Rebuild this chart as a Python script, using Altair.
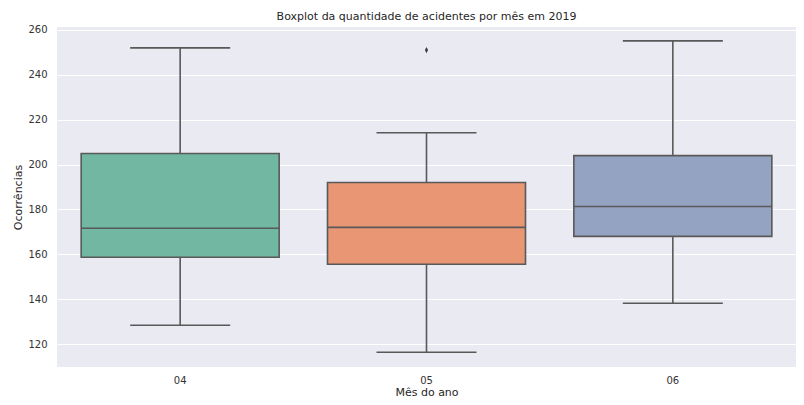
import altair as alt
import pandas as pd

months = ["04", "05", "06"]
whisk_low = [128.4, 116.4, 138.2]
q1 = [158.7, 155.6, 168.0]
median = [171.6, 172.0, 181.3]
q3 = [204.9, 192.0, 204.0]
whisk_high = [252.0, 214.2, 255.1]
colors = ["#71b7a1", "#e99675", "#95a3c3"]

out_month = ["05"]
out_value = [251.0]

df = pd.DataFrame({"mes": months, "low": whisk_low, "q1": q1, "med": median,
                   "q3": q3, "high": whisk_high})
dfo = pd.DataFrame({"mes": out_month, "v": out_value})

LINE = "#595959"
LW = 1.6

x = alt.X("mes:N", title="Mês do ano", sort=months,
          scale=alt.Scale(paddingInner=0, paddingOuter=0),
          axis=alt.Axis(labelAngle=0, ticks=False, domain=False, grid=False,
                        labelPadding=8, titlePadding=1))
yscale = alt.Scale(domain=[109.8, 261.3], nice=False, zero=False)
yaxis = alt.Axis(values=[120, 140, 160, 180, 200, 220, 240, 260], ticks=False,
                 domain=False, grid=True, gridColor="white", gridWidth=1,
                 labelPadding=10, titlePadding=4)

base = alt.Chart(df)

whisk_lo = base.mark_rule(color=LINE, strokeWidth=LW).encode(
    x=x, y=alt.Y("low:Q", scale=yscale, axis=yaxis, title="Ocorrências"), y2="q1:Q")
whisk_hi = base.mark_rule(color=LINE, strokeWidth=LW).encode(
    x=x, y=alt.Y("q3:Q", scale=yscale), y2="high:Q")
cap_lo = base.mark_tick(color=LINE, size=100, thickness=LW, opacity=1).encode(
    x=x, y=alt.Y("low:Q", scale=yscale))
cap_hi = base.mark_tick(color=LINE, size=100, thickness=LW, opacity=1).encode(
    x=x, y=alt.Y("high:Q", scale=yscale))
box = base.mark_bar(size=198, stroke=LINE, strokeWidth=LW, opacity=1).encode(
    x=x, y=alt.Y("q1:Q", scale=yscale), y2="q3:Q",
    color=alt.Color("mes:N", scale=alt.Scale(domain=months, range=colors), legend=None))
med = base.mark_tick(color=LINE, size=198, thickness=LW, opacity=1).encode(
    x=x, y=alt.Y("med:Q", scale=yscale))
outl = alt.Chart(dfo).mark_point(
    shape="M0,-1L0.5,0L0,1L-0.5,0Z", filled=True, color="#3d3d3d", size=40, opacity=1
).encode(x=alt.X("mes:N", sort=months), y=alt.Y("v:Q", scale=yscale))

chart = alt.layer(whisk_lo, whisk_hi, cap_lo, cap_hi, box, med, outl).properties(
    width=739, height=340,
    title=alt.TitleParams("Boxplot da quantidade de acidentes por mês em 2019",
                          fontSize=11, fontWeight="normal", color="#262626",
                          font="DejaVu Sans", offset=3, anchor="middle"),
    autosize=alt.AutoSizeParams(type="none"),
    padding={"left": 49, "top": 19, "right": 0, "bottom": 31},
    background="white",
).configure_view(fill="#EAEAF2", stroke=None).configure_axis(
    labelFont="DejaVu Sans", titleFont="DejaVu Sans", labelFontSize=10,
    titleFontSize=11, labelColor="#333333", titleColor="#262626",
    titleFontWeight="normal"
)

chart.save("out.html", embed_options={"renderer": "svg", "actions": False})
